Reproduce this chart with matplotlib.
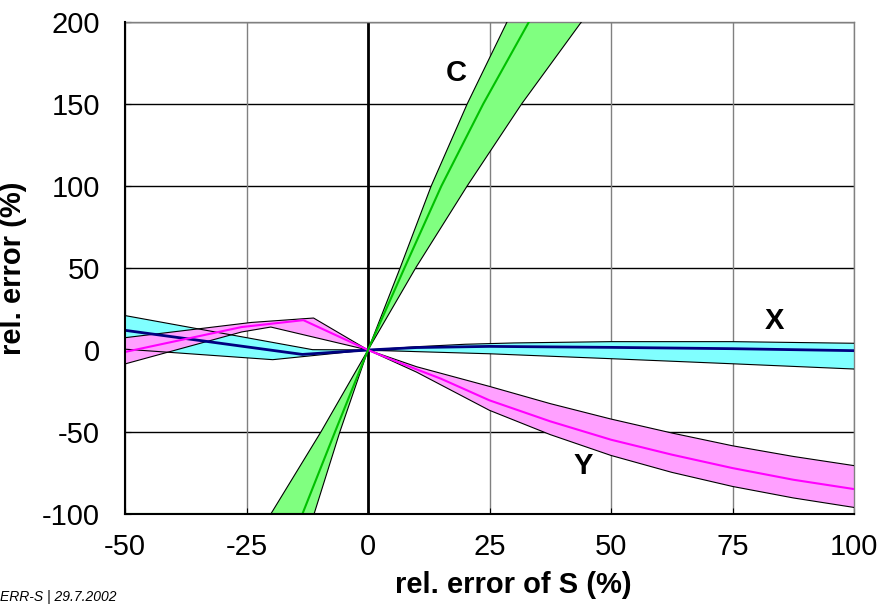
import matplotlib
matplotlib.use("Agg")
import matplotlib.pyplot as plt

plt.rcParams["font.family"] = ["Liberation Sans", "DejaVu Sans"]
plt.rcParams["axes.unicode_minus"] = False

# X band (cyan) - lower edge, centre, upper edge
x_lo_x = [-50, -19.6, 0, 10, 25, 50, 75, 100]
x_lo_y = [0.5, -5.9, 0, -1.0, -2.3, -5.3, -8.4, -11.6]
x_mid_x = [-50, -13.5, 0, 10, 25, 50, 75, 100]
x_mid_y = [12, -2.7, 0, 1.5, 2.2, 1.6, 0.8, -0.4]
x_hi_x = [-50, -11.4, 0, 10, 20, 30, 50, 75, 100]
x_hi_y = [21, 0.2, 0, 2.0, 3.5, 4.3, 5.1, 5.1, 4.1]

# Y band (magenta)
y_lo_x = [-50, -26, -20, 0, 10, 25, 37.5, 50, 62.5, 75, 87.5, 100]
y_lo_y = [-8.5, 11, 14, 0, -13.5, -36.8, -51.6, -64.3, -74.6, -83.2, -90.2, -96]
y_mid_x = [-50, -26, -13.3, 0, 5, 10, 15, 25, 37.5, 50, 62.5, 75, 87.5, 100]
y_mid_y = [-1.2, 14, 18.2, 0, -6.0, -11.8, -17.5, -30.7, -43.5, -54.7, -63.8, -72, -79.1, -84.8]
y_hi_x = [-50, -24, -11.2, 0, 10, 25, 37.5, 50, 62.5, 75, 87.5, 100]
y_hi_y = [7.5, 16.8, 19.5, 0, -10.2, -22.2, -32.7, -42.1, -50.6, -58.4, -64.9, -70.5]

# C band (green), values clipped at -100 like the original
c_lo_x = [-50, -20, -9.7, 0, 6.6, 13.0, 20.4, 28.6]
c_lo_y = [-100, -100, -50, 0, 50, 100, 150, 200]
c_mid_x = [-50, -13.5, -6.8, 0, 7.5, 15.1, 23.7, 33.1]
c_mid_y = [-100, -100, -50, 0, 50, 100, 150, 200]
c_hi_x = [-50, -11.1, -5.8, 0, 9.8, 20.4, 31.6, 43.9]
c_hi_y = [-100, -100, -50, 0, 50, 100, 150, 200]

xticks = [-50, -25, 0, 25, 50, 75, 100]
yticks = [-100, -50, 0, 50, 100, 150, 200]

fig = plt.figure(figsize=(8.86, 6.06), dpi=100)
ax = fig.add_axes([125 / 886, 92 / 606, 729 / 886, 492 / 606])

# grid
for yv in yticks:
    ax.axhline(yv, color="black", lw=1, zorder=1)
for xv in xticks:
    ax.axvline(xv, color="#808080", lw=1, zorder=1)
ax.axvline(0, color="black", lw=2, zorder=1)


def band(lx, ly, hx, hy, fill):
    ax.fill(list(lx) + list(hx)[::-1], list(ly) + list(hy)[::-1],
            color=fill, lw=0, zorder=2)


band(x_lo_x, x_lo_y, x_hi_x, x_hi_y, "#80FFFF")
band(y_lo_x, y_lo_y, y_hi_x, y_hi_y, "#FFA0FF")
band(c_lo_x, c_lo_y, c_hi_x, c_hi_y, "#80FF80")

for xs, ys in [(x_lo_x, x_lo_y), (x_hi_x, x_hi_y), (y_lo_x, y_lo_y),
               (y_hi_x, y_hi_y), (c_lo_x, c_lo_y), (c_hi_x, c_hi_y)]:
    ax.plot(xs, ys, color="black", lw=0.8, zorder=3)

ax.plot(x_mid_x, x_mid_y, color="#000080", lw=2, zorder=4)
ax.plot(y_mid_x, y_mid_y, color="#FF00FF", lw=1.5, zorder=4)
ax.plot(c_mid_x, c_mid_y, color="#00C000", lw=1.5, zorder=4)

ax.text(18.1, 168.9, "C", fontsize=21, fontweight="bold", ha="center", va="center", zorder=5)
ax.text(83.6, 17.4, "X", fontsize=21, fontweight="bold", ha="center", va="center", zorder=5)
ax.text(44.2, -71, "Y", fontsize=21, fontweight="bold", ha="center", va="center", zorder=5)

ax.set_xlim(-50, 100)
ax.set_ylim(-100, 200)
ax.set_xticks(xticks)
ax.set_yticks(yticks)
ax.tick_params(direction="in", length=4, labelsize=21, pad=14)
ax.tick_params(axis="y", pad=18)

for s in ["left", "bottom"]:
    ax.spines[s].set_linewidth(1.5)
    ax.spines[s].set_zorder(6)
for s in ["top", "right"]:
    ax.spines[s].set_color("#808080")
    ax.spines[s].set_linewidth(1)

ax.set_xlabel("rel. error of S (%)", fontsize=21, fontweight="bold")
ax.set_ylabel("rel. error (%)", fontsize=21, fontweight="bold")
ax.xaxis.set_label_coords(0.532, -0.115)
ax.yaxis.set_label_coords(-0.135, 0.5)

fig.text(0.0, 0.015, "ERR-S | 29.7.2002", fontsize=10, style="italic", ha="left", va="center")

fig.savefig("out.png", dpi=100)
